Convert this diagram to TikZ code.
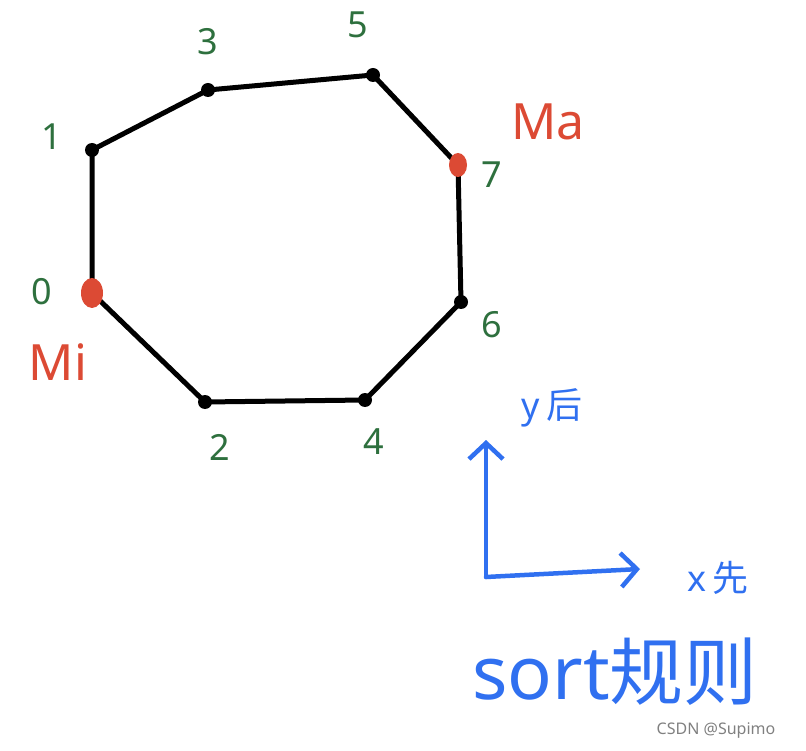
\documentclass[tikz,border=0pt]{standalone}
\usepackage{fontspec}
\setmainfont{Noto Sans}
\newfontfamily\cjk{Noto Sans CJK SC}
\usetikzlibrary{arrows.meta}

\definecolor{numgreen}{RGB}{46,112,62}
\definecolor{dotred}{RGB}{220,74,52}
\definecolor{axblue}{RGB}{48,112,240}

\begin{document}
\begin{tikzpicture}[x=1pt,y=-1pt]
			\tikzstyle{every node}+=[inner sep=0pt]
			\tikzstyle{num}=[text=numgreen,font=\fontsize{36}{36}\selectfont]
			\tikzstyle{extremum}=[text=dotred,font=\fontsize{50}{50}\selectfont]
			\tikzstyle{ax}=[text=axblue,font=\fontsize{36}{36}\selectfont]
			\useasboundingbox (0,0) rectangle (806,751);
			% polygon vertices
			\coordinate (v0) at (92,293);
			\coordinate (v1) at (92,150);
			\coordinate (v3) at (208,90);
			\coordinate (v5) at (373,75);
			\coordinate (v7) at (458,165);
			\coordinate (v6) at (461,302);
			\coordinate (v4) at (365,400);
			\coordinate (v2) at (205,402);
			\draw [black,line width=5pt,line join=round] (v0) -- (v1) -- (v3) -- (v5) -- (v7) -- (v6) -- (v4) -- (v2) -- cycle;
			\foreach \v in {v1,v3,v5,v6,v4,v2}
				\fill [black] (\v) circle (7);
			\fill [dotred] (v0) ellipse (11 and 15);
			\fill [dotred] (v7) ellipse (9 and 12);
			% labels
			\node [num] (n0) at (42,292) {0};
			\node [num] (n1) at (52,137) {1};
			\node [num] (n3) at (208,42) {3};
			\node [num] (n5) at (358,25) {5};
			\node [num] (n7) at (492,175) {7};
			\node [num] (n6) at (492,325) {6};
			\node [num] (n4) at (374,442) {4};
			\node [num] (n2) at (220,447) {2};
			\node [extremum] (mi) at (58,362) {Mi};
			\node [extremum] (ma) at (548,122) {Ma};
			% axes
			\coordinate (o) at (486,577);
			\coordinate (ytip) at (486,440);
			\coordinate (xtip) at (640,569);
			\draw [axblue,line width=4.5pt,line cap=round,-{Straight Barb[length=16pt,width=34pt]}] (o) -- (ytip);
			\draw [axblue,line width=4.5pt,line cap=round,-{Straight Barb[length=16pt,width=34pt]}] (o) -- (xtip);
			\node [ax] (ylab) at (552,408) {y\,{\cjk 后}};
			\node [ax] (xlab) at (718,578) {x\,{\cjk 先}};
			\node [text=axblue,font=\fontsize{74}{74}\selectfont] (rule) at (615,672) {sort{\cjk 规则}};
			\node [text=gray,font=\fontsize{16}{16}\selectfont] (wm) at (716,731) {CSDN @Supimo};
\end{tikzpicture}
\end{document}
